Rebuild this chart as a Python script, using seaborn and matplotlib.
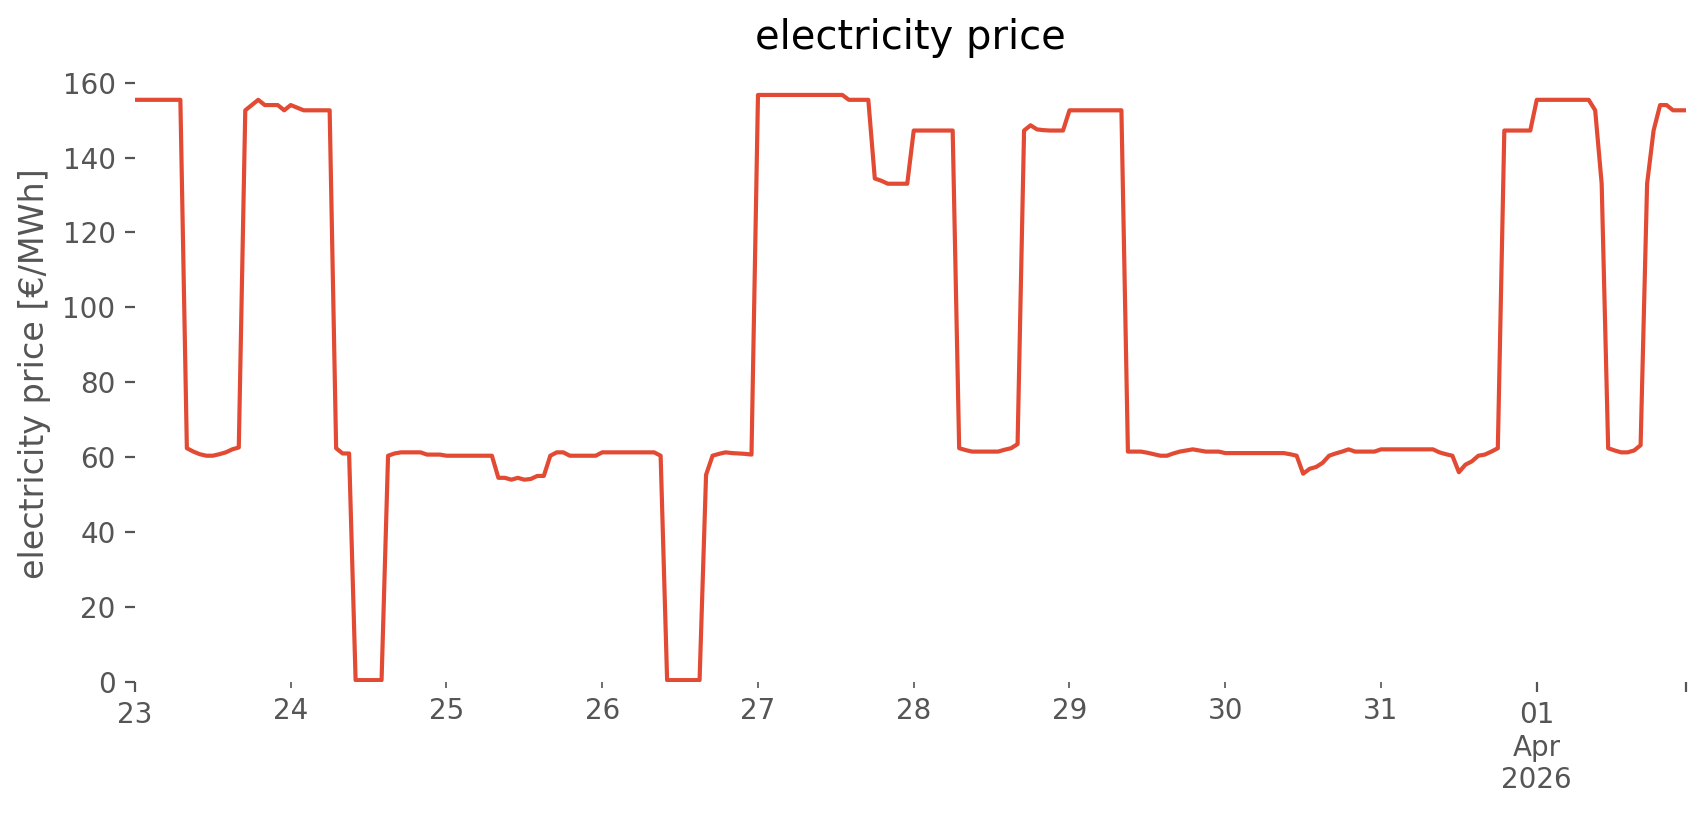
import matplotlib
matplotlib.use("Agg")
import matplotlib.pyplot as plt
import matplotlib.dates as mdates
from matplotlib.ticker import FixedLocator, FixedFormatter
import seaborn as sns
import pandas as pd

# hourly electricity price [€/MWh], one list per day
price_mar23 = [155.4, 155.4, 155.4, 155.4, 155.4, 155.4, 155.4, 155.4,
               62.4, 61.5, 60.8, 60.4, 60.4, 60.8, 61.3, 62.1,
               62.6, 152.6, 154.0, 155.4, 154.0, 154.0, 154.0, 152.6]
price_mar24 = [154.0, 153.3, 152.6, 152.6, 152.6, 152.6, 152.6, 62.4,
               61.0, 61.0, 0.5, 0.5, 0.5, 0.5, 0.5, 60.4,
               61.0, 61.3, 61.3, 61.3, 61.3, 60.7, 60.7, 60.7]
price_mar25 = [60.4, 60.4, 60.4, 60.4, 60.4, 60.4, 60.4, 60.4,
               54.5, 54.5, 54.0, 54.5, 54.0, 54.2, 55.0, 55.0,
               60.4, 61.3, 61.3, 60.4, 60.4, 60.4, 60.4, 60.4]
price_mar26 = [61.3, 61.3, 61.3, 61.3, 61.3, 61.3, 61.3, 61.3,
               61.3, 60.4, 0.5, 0.5, 0.5, 0.5, 0.5, 0.5,
               55.3, 60.4, 60.9, 61.3, 61.1, 61.0, 60.9, 60.7]
price_mar27 = [156.7, 156.7, 156.7, 156.7, 156.7, 156.7, 156.7, 156.7,
               156.7, 156.7, 156.7, 156.7, 156.7, 156.7, 155.4, 155.4,
               155.4, 155.4, 134.4, 133.8, 133.0, 133.0, 133.0, 133.0]
price_mar28 = [147.2, 147.2, 147.2, 147.2, 147.2, 147.2, 147.2, 62.4,
               61.9, 61.5, 61.5, 61.5, 61.5, 61.5, 62.0, 62.4,
               63.5, 147.2, 148.6, 147.5, 147.3, 147.2, 147.2, 147.2]
price_mar29 = [152.6, 152.6, 152.6, 152.6, 152.6, 152.6, 152.6, 152.6,
               152.6, 61.5, 61.5, 61.5, 61.2, 60.8, 60.4, 60.4,
               61.0, 61.5, 61.8, 62.1, 61.8, 61.5, 61.5, 61.5]
price_mar30 = [61.1, 61.1, 61.1, 61.1, 61.1, 61.1, 61.1, 61.1,
               61.1, 61.1, 60.8, 60.4, 55.6, 56.9, 57.4, 58.5,
               60.4, 61.0, 61.5, 62.1, 61.5, 61.5, 61.5, 61.5]
price_mar31 = [62.1, 62.1, 62.1, 62.1, 62.1, 62.1, 62.1, 62.1,
               62.1, 61.3, 60.8, 60.4, 56.0, 58.0, 58.9, 60.4,
               60.7, 61.5, 62.4, 147.2, 147.2, 147.2, 147.2, 147.2]
price_apr01 = [155.4, 155.4, 155.4, 155.4, 155.4, 155.4, 155.4, 155.4,
               155.4, 152.6, 133.0, 62.4, 61.8, 61.3, 61.3, 61.8,
               63.2, 133.0, 147.2, 154.0, 154.0, 152.6, 152.6, 152.6]

prices = (price_mar23 + price_mar24 + price_mar25 + price_mar26 + price_mar27
          + price_mar28 + price_mar29 + price_mar30 + price_mar31 + price_apr01)
times = pd.date_range("2026-03-23 00:00", periods=len(prices), freq="h")
df = pd.DataFrame({"time": times, "price": prices})

major_dates = ["2026-03-23 00:00", "2026-04-01 00:00", "2026-04-01 23:00"]
major_labels = ["23", "01\nApr\n2026", ""]
minor_dates = ["2026-03-24 00:00", "2026-03-25 00:00", "2026-03-26 00:00",
               "2026-03-27 00:00", "2026-03-28 00:00", "2026-03-29 00:00",
               "2026-03-30 00:00", "2026-03-31 00:00"]
minor_labels = ["24", "25", "26", "27", "28", "29", "30", "31"]
y_ticks = [0, 20, 40, 60, 80, 100, 120, 140, 160]

plt.style.use("ggplot")
plt.rcParams.update({
    "axes.facecolor": "white",
    "axes.grid": False,
    "axes.edgecolor": "white",
})

fig = plt.figure(figsize=(8.53, 4.075), dpi=200)
ax = fig.add_axes([0.0791, 0.1632, 0.9092, 0.7562])
sns.lineplot(data=df, x="time", y="price", ax=ax, color="#E24A33", linewidth=1.5)

ax.set_xlim(times[0], times[-1])
ax.set_ylim(bottom=0)
ax.set_yticks(y_ticks)

ax.xaxis.set_major_locator(FixedLocator(mdates.date2num(pd.to_datetime(major_dates, format="%Y-%m-%d %H:%M"))))
ax.xaxis.set_major_formatter(FixedFormatter(major_labels))
ax.xaxis.set_minor_locator(FixedLocator(mdates.date2num(pd.to_datetime(minor_dates, format="%Y-%m-%d %H:%M"))))
ax.xaxis.set_minor_formatter(FixedFormatter(minor_labels))
ax.tick_params(axis="x", which="minor", labelsize=10, colors="#555555")

ax.set_xlabel("")
ax.set_ylabel("electricity price [€/MWh]")
ax.set_title("electricity price")
for s in ax.spines.values():
    s.set_visible(False)

fig.savefig("out.png", dpi=200)
